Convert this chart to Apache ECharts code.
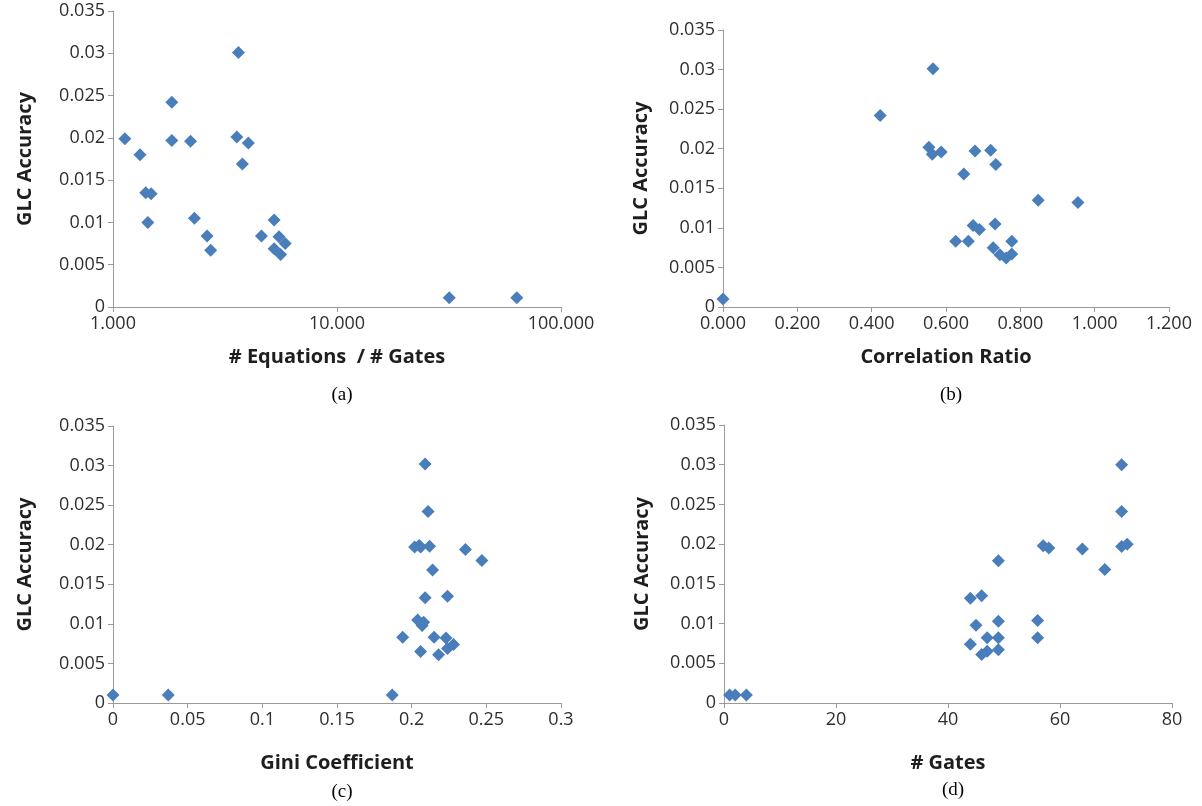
<!DOCTYPE html>
<html>
<head>
<meta charset="utf-8">
<script src="https://cdn.jsdelivr.net/npm/echarts@6/dist/echarts.min.js"></script>
<style>
html,body{margin:0;padding:0;background:#fff;}
#c{width:1202px;height:806px;}
</style>
</head>
<body>
<div id="c"></div>
<script>
// ---- Data ----
// (a) GLC accuracy vs # Equations / # Gates (log axis)
var aRatio = [1.13, 1.32, 1.83, 1.83, 2.22, 1.40, 1.48, 1.43, 2.31, 2.63, 2.73, 3.63, 3.57, 4.02, 3.78, 4.60, 5.24, 5.51, 5.24, 5.60, 5.87, 31.7, 63.5];
var aAcc   = [0.0199, 0.0180, 0.0242, 0.0197, 0.0196, 0.0135, 0.0134, 0.0100, 0.0105, 0.0084, 0.0067, 0.0301, 0.0201, 0.0194, 0.0169, 0.0084, 0.0103, 0.0083, 0.0069, 0.0062, 0.0075, 0.0011, 0.0011];

// (b) GLC accuracy vs Correlation Ratio
var bCorr = [0.000, 0.423, 0.565, 0.554, 0.563, 0.587, 0.678, 0.720, 0.734, 0.648, 0.848, 0.955, 0.673, 0.690, 0.732, 0.626, 0.660, 0.777, 0.727, 0.745, 0.762, 0.777];
var bAcc  = [0.0010, 0.0242, 0.0301, 0.0202, 0.0193, 0.0196, 0.0197, 0.0198, 0.0180, 0.0168, 0.0135, 0.0132, 0.0103, 0.0098, 0.0105, 0.0083, 0.0083, 0.0083, 0.0075, 0.0066, 0.0062, 0.0067];

// (c) GLC accuracy vs Gini Coefficient
var cGini = [0.000, 0.037, 0.187, 0.209, 0.211, 0.202, 0.205, 0.206, 0.212, 0.236, 0.247, 0.214, 0.209, 0.224, 0.204, 0.208, 0.207, 0.194, 0.215, 0.223, 0.206, 0.218, 0.224, 0.228];
var cAcc  = [0.0010, 0.0010, 0.0010, 0.0302, 0.0242, 0.0197, 0.0199, 0.0197, 0.0198, 0.0194, 0.0180, 0.0168, 0.0133, 0.0135, 0.0105, 0.0102, 0.0098, 0.0083, 0.0083, 0.0082, 0.0065, 0.0061, 0.0069, 0.0074];

// (d) GLC accuracy vs # Gates
var dGates = [1, 2, 4, 44, 46, 45, 44, 46, 47, 47, 49, 49, 49, 49, 56, 56, 57, 58, 64, 68, 71, 71, 71, 72];
var dAcc   = [0.0010, 0.0010, 0.0010, 0.0132, 0.0135, 0.0098, 0.0074, 0.0061, 0.0065, 0.0082, 0.0082, 0.0067, 0.0103, 0.0179, 0.0104, 0.0082, 0.0198, 0.0195, 0.0194, 0.0168, 0.0300, 0.0241, 0.0197, 0.0200];

// Labels
var yTitle = 'GLC Accuracy';
var xTitles = ['# Equations  / # Gates', 'Correlation Ratio', 'Gini Coefficient', '# Gates'];
var captions = ['(a)', '(b)', '(c)', '(d)'];

// ---- Styling ----
var MARK = '#4A7EBB';
var AXIS = '#9a9a9a';
var TICKTXT = '#2e2e2e';
var TITLETXT = '#1e1e1e';
var FONT = '"Open Sans", "Noto Sans", sans-serif';

function zip(xs, ys){ var r=[]; for (var i=0;i<xs.length;i++) r.push([xs[i], ys[i]]); return r; }
function yFmt(v){ return String(parseFloat(v.toFixed(3))); }

var grids = [
  {left:113, top:11,  width:448, height:296},
  {left:723, top:30,  width:446, height:277},
  {left:113, top:426, width:448, height:277},
  {left:724, top:425, width:448, height:278}
];
var yGaps = [78, 72, 78, 72];
var xGaps = [40, 40, 50, 50];

var xDefs = [
  {type:'log', logBase:10, min:1, max:100, fmt:function(v){return v.toFixed(3);}},
  {type:'value', min:0, max:1.2, interval:0.2, fmt:function(v){return v.toFixed(3);}},
  {type:'value', min:0, max:0.3, interval:0.05, fmt:function(v){return String(parseFloat(v.toFixed(3)));}},
  {type:'value', min:0, max:80, interval:20, fmt:function(v){return String(v);}}
];

var axisLine = {show:true, lineStyle:{color:AXIS, width:1}};
var axisTick = {show:true, inside:false, length:5, lineStyle:{color:AXIS, width:1}};

var xAxes = [], yAxes = [], series = [];
for (var i=0;i<4;i++){
  var d = xDefs[i];
  var xa = {
    gridIndex:i, type:d.type, min:d.min, max:d.max,
    name: xTitles[i], nameLocation:'middle', nameGap:xGaps[i],
    nameTextStyle:{fontFamily:FONT, fontWeight:'bold', fontSize:20, color:TITLETXT},
    axisLine:axisLine, axisTick:axisTick, splitLine:{show:false}, minorTick:{show:false},
    axisLabel:{fontFamily:FONT, fontSize:18, color:TICKTXT, margin:8, formatter:d.fmt, showMinLabel:true, showMaxLabel:true}
  };
  if (d.type==='log') xa.logBase = d.logBase; else xa.interval = d.interval;
  xAxes.push(xa);
  yAxes.push({
    gridIndex:i, type:'value', min:0, max:0.035, interval:0.005,
    name: yTitle, nameLocation:'middle', nameGap:yGaps[i], nameRotate:90,
    nameTextStyle:{fontFamily:FONT, fontWeight:'bold', fontSize:20, color:TITLETXT},
    axisLine:axisLine, axisTick:axisTick, splitLine:{show:false},
    axisLabel:{fontFamily:FONT, fontSize:18, color:TICKTXT, margin:8, formatter:yFmt, showMinLabel:true, showMaxLabel:true}
  });
}
var dataSets = [zip(aRatio,aAcc), zip(bCorr,bAcc), zip(cGini,cAcc), zip(dGates,dAcc)];
for (var k=0;k<4;k++){
  series.push({
    type:'scatter', xAxisIndex:k, yAxisIndex:k, data:dataSets[k],
    symbol:'diamond', symbolSize:[13,13], clip:false,
    itemStyle:{color:MARK, opacity:1}, emphasis:{disabled:true}, animation:false
  });
}

var capPos = [[337,392],[946,392],[337,789],[948,787]];
var titles = captions.map(function(t,i){
  return {text:t, left:capPos[i][0], top:capPos[i][1]-11, textAlign:'center',
    textStyle:{fontFamily:'"Liberation Serif", "Times New Roman", serif', fontWeight:'normal', fontSize:19, color:'#000'}};
});

var chart = echarts.init(document.getElementById('c'), null, {renderer:'canvas'});
chart.setOption({
  animation:false,
  backgroundColor:'#ffffff',
  title: titles,
  grid: grids,
  xAxis: xAxes,
  yAxis: yAxes,
  series: series
});
</script>
</body>
</html>
